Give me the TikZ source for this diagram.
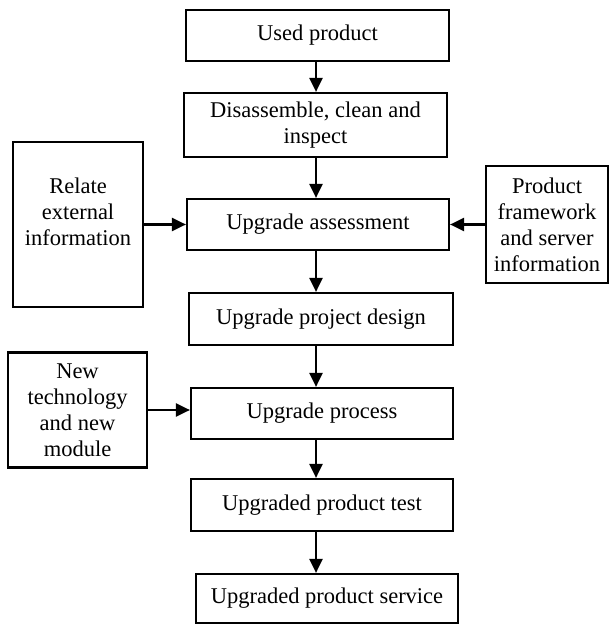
\documentclass[tikz,border=0pt]{standalone}
\usepackage{fontspec}
\setmainfont{Liberation Serif}
\usetikzlibrary{arrows.meta}
\begin{document}
\begin{tikzpicture}[x=0.5pt,y=-0.5pt,
  box/.style={draw, line width=1.1pt, align=center, inner sep=0pt, font=\fontsize{11.25}{13}\selectfont},
  arr/.style={line width=1.1pt, -{Triangle[length=7pt,width=6.5pt]}}]
\useasboundingbox (0,0) rectangle (610,625);
\node[box, minimum width=131.5pt, minimum height=25.5pt] (used) at (317.5,35.5) {Used product};
\node[box, minimum width=131.5pt, minimum height=32pt] (dis) at (315.5,125) {Disassemble, clean and\\inspect};
\node[box, minimum width=131pt, minimum height=25.5pt] (assess) at (318,224.5) {Upgrade assessment};
\node[box, minimum width=132pt, minimum height=26pt] (design) at (321,319) {Upgrade project design};
\node[box, minimum width=131pt, minimum height=25.5pt] (process) at (322,413.5) {Upgrade process};
\node[box, minimum width=131pt, minimum height=26pt] (test) at (322,505) {Upgraded product test};
\node[box, minimum width=131pt, minimum height=24.5pt] (service) at (327,598.5) {Upgraded product service};
\node[box, minimum width=65pt, minimum height=82.5pt] (relate) at (78,224.5) {Relate\\external\\information\\\mbox{}};
\node[box, minimum width=61pt, minimum height=58.5pt] (pf) at (547,224.5) {Product\\framework\\and server\\information};
\node[box, minimum width=69.5pt, minimum height=57.5pt] (newtech) at (77.5,410) {New\\technology\\and new\\module};
\coordinate (xa) at (316,0);
\draw[arr] (used.south -| xa) -- (dis.north -| xa);
\draw[arr] (dis.south -| xa) -- (assess.north -| xa);
\draw[arr] (assess.south -| xa) -- (design.north -| xa);
\draw[arr] (design.south -| xa) -- (process.north -| xa);
\draw[arr] (process.south -| xa) -- (test.north -| xa);
\draw[arr] (test.south -| xa) -- (service.north -| xa);
\draw[arr] (relate.east) -- (assess.west);
\draw[arr] (pf.west) -- (assess.east);
\draw[arr] (newtech.east) -- (newtech.east -| process.west);
\end{tikzpicture}
\end{document}
